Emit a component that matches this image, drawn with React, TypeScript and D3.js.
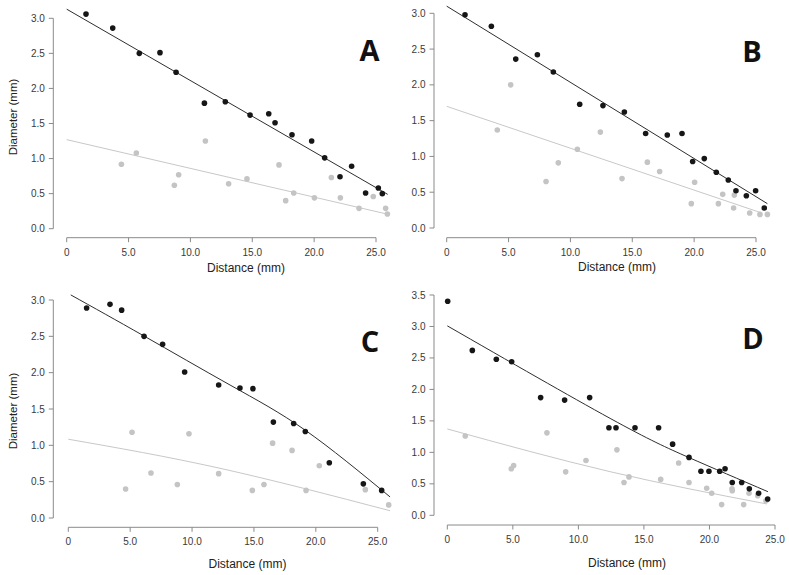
import React from "react";
import * as d3 from "d3";

// ---------- data ----------
const xTickValues = [0, 5, 10, 15, 20, 25];
const xTickLabels = ["0", "5.0", "10.0", "15.0", "20.0", "25.0"];
const yTickValuesABC = [0, 0.5, 1, 1.5, 2, 2.5, 3];
const yTickValuesD = [0, 0.5, 1, 1.5, 2, 2.5, 3, 3.5];
const xAxisTitle = "Distance (mm)";
const yAxisTitle = "Diameter (mm)";

// Panel A
const aBlackX = [1.56, 3.72, 5.87, 7.54, 8.84, 11.13, 12.82, 14.82, 16.33, 16.84, 18.21, 19.8, 20.85, 22.09, 23.03, 24.16, 25.19, 25.51];
const aBlackY = [3.06, 2.86, 2.5, 2.51, 2.23, 1.79, 1.81, 1.62, 1.64, 1.51, 1.34, 1.25, 1.01, 0.74, 0.89, 0.51, 0.58, 0.5];
const aGrayX = [4.42, 5.63, 8.7, 9.05, 11.21, 13.09, 14.57, 17.16, 17.7, 18.35, 20.02, 21.39, 22.12, 23.63, 24.78, 25.78, 25.92];
const aGrayY = [0.92, 1.08, 0.62, 0.77, 1.25, 0.64, 0.71, 0.91, 0.4, 0.51, 0.44, 0.73, 0.44, 0.29, 0.46, 0.29, 0.21];
const aBlackFitX = [0, 25.94];
const aBlackFitY = [3.13, 0.49];
const aGrayFitX = [0, 25.86];
const aGrayFitY = [1.27, 0.21];

// Panel B
const bBlackX = [1.48, 3.61, 5.58, 7.33, 8.62, 10.75, 12.63, 14.36, 16.08, 17.83, 19.02, 19.88, 20.82, 21.79, 22.76, 23.38, 24.22, 24.97, 25.67];
const bBlackY = [2.98, 2.82, 2.36, 2.42, 2.18, 1.73, 1.71, 1.62, 1.32, 1.3, 1.32, 0.93, 0.97, 0.78, 0.67, 0.52, 0.45, 0.52, 0.28];
const bGrayX = [4.09, 5.17, 8.03, 9.02, 10.56, 12.42, 14.17, 16.22, 17.21, 19.77, 20.04, 21.96, 22.31, 23.25, 23.19, 24.49, 25.32, 25.92];
const bGrayY = [1.37, 2.0, 0.65, 0.91, 1.1, 1.34, 0.69, 0.92, 0.79, 0.34, 0.64, 0.34, 0.47, 0.46, 0.28, 0.21, 0.19, 0.19];
const bBlackFitX = [0, 25.92];
const bBlackFitY = [3.1, 0.34];
const bGrayFitX = [0, 25.46];
const bGrayFitY = [1.7, 0.21];

// Panel C
const cBlackX = [1.48, 3.37, 4.31, 6.12, 7.62, 9.4, 12.15, 13.87, 14.92, 16.57, 18.21, 19.15, 21.09, 23.84, 25.32];
const cBlackY = [2.89, 2.94, 2.86, 2.5, 2.39, 2.01, 1.83, 1.79, 1.78, 1.32, 1.3, 1.19, 0.76, 0.47, 0.38];
const cGrayX = [4.63, 5.15, 6.68, 8.81, 9.75, 12.15, 14.87, 15.81, 16.51, 18.08, 19.21, 20.28, 24.0, 25.89];
const cGrayY = [0.4, 1.18, 0.62, 0.46, 1.16, 0.61, 0.38, 0.46, 1.03, 0.93, 0.38, 0.72, 0.39, 0.18];
const cBlackFitX = [0.2, 6.06, 13.07, 19.13, 26.0];
const cBlackFitY = [3.07, 2.51, 1.83, 1.21, 0.29];
const cGrayFitX = [0, 12.26, 26.0];
const cGrayFitY = [1.084, 0.684, 0.1];

// Panel D
const dBlackX = [0.03, 1.91, 3.74, 4.91, 7.12, 8.95, 10.86, 12.33, 12.87, 14.32, 16.12, 17.19, 18.44, 19.35, 19.96, 20.78, 21.19, 21.74, 22.46, 23.04, 23.75, 24.44];
const dBlackY = [3.4, 2.62, 2.48, 2.44, 1.87, 1.83, 1.87, 1.39, 1.39, 1.39, 1.39, 1.13, 0.92, 0.7, 0.7, 0.7, 0.74, 0.52, 0.52, 0.42, 0.35, 0.26];
const dGrayX = [1.37, 4.88, 5.06, 7.6, 9.03, 10.58, 12.94, 13.48, 13.86, 16.28, 17.65, 18.44, 19.79, 20.17, 20.93, 21.72, 21.74, 22.61, 23.02, 23.68, 24.31];
const dGrayY = [1.26, 0.74, 0.79, 1.31, 0.69, 0.87, 1.04, 0.52, 0.61, 0.57, 0.83, 0.52, 0.43, 0.35, 0.17, 0.42, 0.39, 0.17, 0.35, 0.31, 0.23];
const dBlackFitX = [0, 12.42, 18.45, 24.46];
const dBlackFitY = [3.01, 1.54, 0.916, 0.375];
const dGrayFitX = [0, 12.42, 24.38];
const dGrayFitY = [1.372, 0.693, 0.18];

// ---------- layout ----------
type Layout = {
  x0: number; x25: number; yZero: number; yTopVal: number; yTopPx: number;
  xAxisY: number; yAxisX: number;
  xTitle: [number, number]; yTitle: [number, number] | null;
  letter: string; letterPos: [number, number];
};

const layouts: Layout[] = [
  { x0: 66.7, x25: 376, yZero: 228.7, yTopVal: 3, yTopPx: 18.3, xAxisY: 237.7, yAxisX: 53.3, xTitle: [246, 268], yTitle: [12.5, 117], letter: "A", letterPos: [369.5, 61] },
  { x0: 446.7, x25: 756, yZero: 228, yTopVal: 3, yTopPx: 13.3, xAxisY: 237.7, yAxisX: 434, xTitle: [617, 267], yTitle: null, letter: "B", letterPos: [752, 62] },
  { x0: 68.3, x25: 377.7, yZero: 518, yTopVal: 3, yTopPx: 300, xAxisY: 527.3, yAxisX: 53.3, xTitle: [247.5, 563.3], yTitle: [12.5, 411], letter: "C", letterPos: [370, 352] },
  { x0: 447.3, x25: 775, yZero: 515.3, yTopVal: 3.5, yTopPx: 295, xAxisY: 525, yAxisX: 434, xTitle: [627, 562.7], yTitle: null, letter: "D", letterPos: [753, 348.5] },
];

type Series = { bx: number[]; by: number[]; gx: number[]; gy: number[]; bfx: number[]; bfy: number[]; gfx: number[]; gfy: number[]; yTicks: number[] };

const panels: Series[] = [
  { bx: aBlackX, by: aBlackY, gx: aGrayX, gy: aGrayY, bfx: aBlackFitX, bfy: aBlackFitY, gfx: aGrayFitX, gfy: aGrayFitY, yTicks: yTickValuesABC },
  { bx: bBlackX, by: bBlackY, gx: bGrayX, gy: bGrayY, bfx: bBlackFitX, bfy: bBlackFitY, gfx: bGrayFitX, gfy: bGrayFitY, yTicks: yTickValuesABC },
  { bx: cBlackX, by: cBlackY, gx: cGrayX, gy: cGrayY, bfx: cBlackFitX, bfy: cBlackFitY, gfx: cGrayFitX, gfy: cGrayFitY, yTicks: yTickValuesABC },
  { bx: dBlackX, by: dBlackY, gx: dGrayX, gy: dGrayY, bfx: dBlackFitX, bfy: dBlackFitY, gfx: dGrayFitX, gfy: dGrayFitY, yTicks: yTickValuesD },
];

const FONT = "'Liberation Sans', Arial, sans-serif";
const AXIS_COLOR = "#8a8a8a";
const TICK_TEXT = "#3a3a3a";
const BLACK_DOT = "#161616";
const GRAY_DOT = "#c4c4c4";
const BLACK_LINE = "#2e2e2e";
const GRAY_LINE = "#c8c8c8";

function Panel({ L, S }: { L: Layout; S: Series }) {
  const x = d3.scaleLinear().domain([0, 25]).range([L.x0, L.x25]);
  const y = d3.scaleLinear().domain([0, L.yTopVal]).range([L.yZero, L.yTopPx]);
  const yT = S.yTicks;
  const line = d3
    .line<[number, number]>()
    .x((d) => x(d[0]))
    .y((d) => y(d[1]))
    .curve(d3.curveNatural);
  const bfit = S.bfx.map((v, i) => [v, S.bfy[i]] as [number, number]);
  const gfit = S.gfx.map((v, i) => [v, S.gfy[i]] as [number, number]);
  const tickLen = 4.5;
  return (
    <g>
      {/* y axis */}
      <line x1={L.yAxisX} x2={L.yAxisX} y1={y(yT[0])} y2={y(yT[yT.length - 1])} stroke={AXIS_COLOR} strokeWidth={1} />
      {yT.map((t) => (
        <g key={"y" + t}>
          <line x1={L.yAxisX - tickLen} x2={L.yAxisX} y1={y(t)} y2={y(t)} stroke={AXIS_COLOR} strokeWidth={1} />
          <text x={L.yAxisX - 8.5} y={y(t)} dy="0.35em" textAnchor="end" fontSize={10} fontFamily={FONT} fill={TICK_TEXT}>
            {t.toFixed(1)}
          </text>
        </g>
      ))}
      {/* x axis */}
      <line x1={x(xTickValues[0])} x2={x(xTickValues[xTickValues.length - 1])} y1={L.xAxisY} y2={L.xAxisY} stroke={AXIS_COLOR} strokeWidth={1} />
      {xTickValues.map((t, i) => (
        <g key={"x" + t}>
          <line x1={x(t)} x2={x(t)} y1={L.xAxisY} y2={L.xAxisY + tickLen} stroke={AXIS_COLOR} strokeWidth={1} />
          <text x={x(t)} y={L.xAxisY + 14.5} dy="0.35em" textAnchor="middle" fontSize={10} fontFamily={FONT} fill={TICK_TEXT}>
            {xTickLabels[i]}
          </text>
        </g>
      ))}
      {/* titles */}
      <text x={L.xTitle[0]} y={L.xTitle[1]} dy="0.35em" textAnchor="middle" fontSize={12} fontFamily={FONT} fill="#222">
        {xAxisTitle}
      </text>
      {L.yTitle && (
        <text
          transform={`translate(${L.yTitle[0]},${L.yTitle[1]}) rotate(-90)`}
          dy="0.35em"
          textAnchor="middle"
          fontSize={11.5}
          fontFamily={FONT}
          fill="#222"
        >
          {yAxisTitle}
        </text>
      )}
      {/* fit lines */}
      <path d={line(gfit) || ""} fill="none" stroke={GRAY_LINE} strokeWidth={1} />
      <path d={line(bfit) || ""} fill="none" stroke={BLACK_LINE} strokeWidth={1} />
      {/* points */}
      {S.gx.map((v, i) => (
        <circle key={"g" + i} cx={x(v)} cy={y(S.gy[i])} r={2.8} fill={GRAY_DOT} />
      ))}
      {S.bx.map((v, i) => (
        <circle key={"b" + i} cx={x(v)} cy={y(S.by[i])} r={2.8} fill={BLACK_DOT} />
      ))}
      {/* panel letter */}
      <text x={L.letterPos[0]} y={L.letterPos[1]} textAnchor="middle" fontSize={29} fontWeight={700} fontFamily="'Open Sans', 'DejaVu Sans', sans-serif" fill="#111">
        {L.letter}
      </text>
    </g>
  );
}

export default function App() {
  return (
    <svg width={789} height={575} style={{ position: "absolute", left: 0, top: 0, background: "#fff" }}>
      <rect width={789} height={575} fill="#fff" />
      {layouts.map((L, i) => (
        <Panel key={i} L={L} S={panels[i]} />
      ))}
    </svg>
  );
}
